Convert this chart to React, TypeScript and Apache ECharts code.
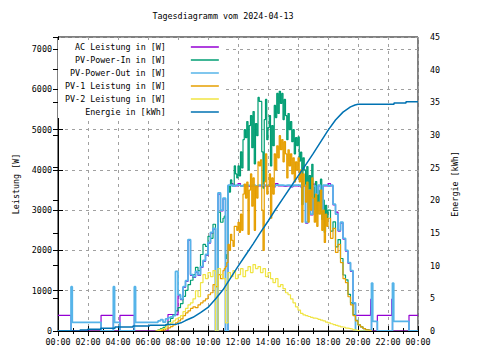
import React, { useEffect, useRef } from "react";
import * as echarts from "echarts";

const FONT = "DejaVu Sans Mono";
const FS = 8.4;

const TITLE = "Tagesdiagramm vom 2024-04-13";
const seriesNames = [
  "AC Leistung in [W]",
  "PV-Power-In in [W]",
  "PV-Power-Out in [W]",
  "PV-1 Leistung in [W]",
  "PV-2 Leistung in [W]",
  "Energie in [kWh]",
];
const colors = ["#9400d3", "#009e73", "#56b4e9", "#e69f00", "#f0e442", "#0072b2"];

// day samples every 10 minutes starting 06:30 (midday PV-In / PV-1 every 5 minutes 11:00-17:55)
const DAY_START = 6.5;
const DAY_STEP = 1 / 6;
const MID_START = 11;
const MID_STEP = 1 / 12;
const EVE_START = 18;

// [hour, W] step points before / after the day block
const acBefore = [[0, 390], [0.87, 0], [2.87, 390], [3.69, 0], [4.13, 390], [5.09, 0]];
const acAfter = [[20.85, 790], [20.9, 0], [21.29, 390], [22.25, 790], [22.3, 0], [23.4, 390], [24, 390]];
const pvOutBefore = [[0, 0], [0.87, 1100], [0.95, 215], [2.87, 0], [3.69, 1100], [3.77, 215], [4.13, 0], [5.09, 1100], [5.17, 215]];
const pvOutAfter = [[20.9, 1190], [20.98, 240], [21.29, 0], [22.3, 1190], [22.38, 240], [23.4, 0], [24, 0]];
const zeroAfter = [[20.9, 0]];

const acDay = [
  0, 0, 0, 0, 0, 410, 410, 410, 400, 880, 780, 1080, 1230, 2250, 1380, 1330, 1460, 1380, 1580, 1730,
  1880, 2180, 2430, 2530, 0, 3400, 2980, 3280, 0, 3600, 3660, 3600, 3600, 3660, 3600, 3600, 3600, 3590, 3600, 3600,
  3580, 3600, 3600, 3600, 3590, 3600, 3600, 3580, 3660, 3600, 3600, 3590, 3600, 3600, 3580, 3600, 3600, 3600, 3580, 3600,
  2680, 3480, 2880, 3650, 3380, 3600, 2980, 3600, 3600, 3660, 3600, 3130, 2950, 2480, 2680, 2280, 1980, 1680, 1480, 680,
  390, 390, 390, 390, 390, 390, 390,
];
const pvOutDay = [
  215, 250, 280, 220, 300, 330, 350, 380, 1480, 900, 800, 1100, 1250, 2270, 1400, 1350, 1480, 1400, 1600, 1750,
  1900, 2200, 2450, 2550, 0, 3430, 3000, 3300, 0, 3620, 3620, 3600, 3620, 3620, 3600, 3620, 3620, 3610, 3620, 3620,
  3600, 3620, 3620, 3620, 3610, 3620, 3620, 3600, 3620, 3620, 3620, 3610, 3620, 3620, 3600, 3620, 3620, 3620, 3600, 3620,
  2700, 3500, 2900, 3600, 3400, 3620, 3000, 3620, 3620, 3600, 3620, 3150, 2900, 2500, 2700, 2300, 2000, 1700, 1500, 700,
  0, 0, 0, 0, 0, 0, 0,
];
const pv2Day = [
  0, 20, 40, 60, 100, 150, 200, 250, 300, 330, 380, 480, 560, 650, 700, 800, 1000, 850, 1200, 1400,
  1300, 1450, 1350, 1500, 0, 1550, 1400, 1300, 200, 1450, 1350, 1500, 1300, 1400, 1550, 1350, 1500, 1600, 1450, 1650,
  1550, 1600, 1450, 1550, 1350, 1450, 1300, 1200, 1300, 1100, 1150, 1050, 950, 900, 800, 700, 600, 520, 440, 400,
  380, 360, 340, 320, 310, 290, 270, 250, 220, 200, 180, 160, 140, 120, 100, 90, 70, 60, 50, 30,
  15, 0, 0, 0, 0, 0, 0,
];

// PV-In: 06:30-10:50 (10 min), 11:00-17:55 (5 min), 18:00-20:50 (10 min)
const pvInMorning = [
  0, 30, 60, 90, 150, 230, 310, 400, 500, 580, 680, 860, 1010, 1150, 1260, 1400, 1580, 1500, 1900, 2150,
  2100, 2350, 2300, 2650, 1100, 2950, 2700,
];
const pvInMid = [
  2800, 2850, 1800, 1900, 3600, 3450, 3750, 3600, 3600, 4100, 3900, 3800,
  4100, 3850, 4450, 4050, 4750, 5000, 4800, 5200, 4000, 5100, 5350, 4550,
  5450, 4150, 5150, 4850, 5800, 5700, 5700, 4450, 3550, 5250, 5750, 4750,
  5050, 5350, 4100, 5100, 4600, 5600, 5300, 5900, 5400, 5950, 5650, 5900,
  5250, 5750, 5350, 4750, 5400, 5000, 5200, 4700, 5000, 4400, 4800, 4600,
  4820, 4220, 4440, 3140, 4300, 4000, 3580, 4080, 3060, 3860, 3340, 4140,
  3620, 3020, 3710, 2910, 3490, 3190, 3770, 2770, 3250, 2450, 3120, 2820,
];
const pvInEvening = [3000, 2480, 2710, 2090, 2270, 1800, 1390, 1270, 910, 700, 410, 265, 150, 100, 60, 30, 15, 0];

// PV-1: same time blocks
const pv1Morning = [
  0, 10, 20, 30, 50, 80, 110, 150, 200, 250, 300, 380, 450, 500, 560, 600, 580, 650, 700, 750,
  800, 900, 950, 1150, 1100, 1400, 1300,
];
const pv1Mid = [
  1500, 1550, 1600, 1700, 2150, 2000, 2400, 2250, 2100, 2600, 2600, 2500,
  2700, 2450, 2900, 2500, 3400, 3650, 3300, 3700, 2400, 3500, 3900, 3100,
  3800, 2500, 3600, 3300, 4200, 4100, 4250, 3000, 2000, 3700, 4400, 3400,
  3600, 3900, 2800, 3800, 3400, 4400, 4000, 4600, 4300, 4850, 4500, 4750,
  4200, 4700, 4400, 3800, 4500, 4100, 4400, 3900, 4300, 3700, 4200, 4000,
  4300, 3700, 4000, 2700, 3900, 3600, 3200, 3700, 2700, 3500, 3000, 3800,
  3300, 2700, 3400, 2600, 3200, 2900, 3500, 2500, 3000, 2200, 2900, 2600,
];
const pv1Evening = [2800, 2300, 2550, 1950, 2150, 1700, 1300, 1200, 850, 650, 380, 250, 150, 100, 60, 30, 15, 0];

// [hour, kWh]
const energy = [
  [0, 0], [1.47, 0], [1.47, 0.15], [1.98, 0.15], [1.98, 0.28], [2.85, 0.28], [2.85, 0.42], [3.8, 0.42],
  [3.8, 0.6], [5.0, 0.6], [5.0, 0.76], [6.1, 0.76], [6.1, 0.87], [7.2, 0.87], [7.2, 1.0], [7.9, 1.05],
  [8.2, 1.25], [8.5, 1.6], [9, 2.1], [9.5, 2.8], [10, 3.6], [10.5, 4.9], [11, 6.3], [11.5, 8.1],
  [12, 9.9], [12.5, 11.6], [13, 13.3], [13.5, 15.1], [14, 16.8], [14.5, 18.6], [15, 20.3], [15.5, 22.0],
  [16, 23.7], [16.5, 25.4], [17, 27.1], [17.5, 28.9], [18, 30.7], [18.5, 32.3], [19, 33.5], [19.5, 34.3],
  [19.8, 34.6], [20, 34.7], [22.4, 34.7], [22.4, 34.9], [23.2, 34.9], [23.2, 35.1], [24, 35.1],
];

const seg = (start: number, step: number, vals: number[]) => vals.map((v, i) => [start + i * step, v]);
const dayPairs = (vals: number[]) => seg(DAY_START, DAY_STEP, vals);
const build = (before: number[][], day: number[], after: number[][]) => [...before, ...dayPairs(day), ...after];
const build3 = (m: number[], mid: number[], e: number[]) => [
  ...seg(DAY_START, DAY_STEP, m),
  ...seg(MID_START, MID_STEP, mid),
  ...seg(EVE_START, DAY_STEP, e),
  ...zeroAfter,
];

const txt = { fontFamily: FONT, fontSize: FS, color: "#000" };
const black = { color: "#000", width: 1 };
const gridLine = { show: true, lineStyle: { color: "#a0a0a0", width: 1, type: [3, 4] as any } };
const hourLabel = (v: number) => String(v % 24).padStart(2, "0") + ":00";
const plainNum = (v: number) => String(v);

function buildOption() {
  const data = [
    build(acBefore, acDay, acAfter),
    build3(pvInMorning, pvInMid, pvInEvening),
    build(pvOutBefore, pvOutDay, pvOutAfter),
    build3(pv1Morning, pv1Mid, pv1Evening),
    build([], pv2Day, zeroAfter),
  ];
  const series: any[] = data.map((d, i) => ({
    name: seriesNames[i],
    type: "line",
    step: "end",
    data: d,
    xAxisIndex: 0,
    yAxisIndex: 0,
    symbol: "none",
    showSymbol: false,
    silent: true,
    lineStyle: { width: i === 2 ? 1.8 : 1.2, color: colors[i] },
    itemStyle: { color: colors[i] },
  }));
  series.push({
    name: seriesNames[5],
    type: "line",
    data: energy,
    xAxisIndex: 0,
    yAxisIndex: 1,
    symbol: "none",
    showSymbol: false,
    silent: true,
    lineStyle: { width: 1.5, color: colors[5] },
    itemStyle: { color: colors[5] },
  });

  return {
    animation: false,
    backgroundColor: "#fff",
    title: {
      text: TITLE,
      left: 223,
      top: 12,
      textAlign: "center",
      padding: 0,
      textStyle: { ...txt, fontWeight: "normal" },
    },
    legend: {
      orient: "vertical",
      left: 58,
      top: 40,
      align: "right",
      icon: "rect",
      itemWidth: 28,
      itemHeight: 1.5,
      itemGap: 5,
      padding: [3, 7, 2, 7],
      backgroundColor: "#fff",
      selectedMode: false,
      data: seriesNames,
      formatter: (name: string) => `{t|${name}}{s| }`,
      textStyle: {
        ...txt,
        rich: {
          t: { ...txt, width: 100, align: "right" },
          s: { ...txt, width: 20 },
        },
      },
    },
    grid: { left: 58, right: 62, top: 37, bottom: 29, show: true, borderColor: "#000", borderWidth: 1 },
    xAxis: [
      {
        type: "value", min: 0, max: 24, interval: 2, position: "bottom",
        axisLine: { lineStyle: black },
        axisTick: { inside: true, length: 5, lineStyle: black },
        minorTick: { show: true, splitNumber: 2, length: 3, lineStyle: black },
        axisLabel: { ...txt, margin: 7, formatter: hourLabel },
        splitLine: gridLine,
      },
      {
        type: "value", min: 0, max: 24, interval: 2, position: "top",
        axisLine: { lineStyle: black },
        axisTick: { inside: true, length: 5, lineStyle: black },
        minorTick: { show: true, splitNumber: 2, length: 3, lineStyle: black },
        axisLabel: { show: false },
        splitLine: { show: false },
      },
      {
        type: "value", min: 0, max: 24, interval: 2, position: "bottom", z: 10,
        axisLine: { lineStyle: black },
        axisTick: { show: false },
        axisLabel: { show: false },
        splitLine: { show: false },
      },
    ],
    yAxis: [
      {
        type: "value", min: 0, max: 7300, interval: 1000, position: "left",
        name: "Leistung [W]", nameLocation: "middle", nameGap: 38, nameTextStyle: txt,
        axisLine: { show: true, lineStyle: black },
        axisTick: { show: true, inside: true, length: 5, lineStyle: black },
        axisLabel: { ...txt, margin: 6, showMaxLabel: false, formatter: plainNum },
        splitLine: gridLine,
      },
      {
        type: "value", min: 0, max: 45, interval: 5, position: "right", offset: 0,
        name: "Energie [kWh]", nameLocation: "middle", nameGap: 27, nameTextStyle: txt,
        axisLine: { show: true, lineStyle: black },
        axisTick: { show: true, inside: true, length: 5, lineStyle: black },
        axisLabel: { ...txt, margin: 12, formatter: plainNum },
        splitLine: { show: false },
      },
      {
        type: "value", min: 0, max: 7300, interval: 1000, position: "right", offset: 0,
        axisLine: { show: false },
        axisTick: { show: true, inside: true, length: 5, lineStyle: black },
        axisLabel: { show: false },
        splitLine: { show: false },
      },
    ],
    series,
  };
}

export default function App() {
  const ref = useRef<HTMLDivElement>(null);
  useEffect(() => {
    if (!ref.current) return;
    const chart = echarts.init(ref.current, null, { renderer: "svg" });
    chart.setOption(buildOption() as any);
    return () => chart.dispose();
  }, []);
  return (
    <div
      ref={ref}
      style={{ position: "fixed", left: 0, top: 0, width: 480, height: 360, background: "#fff" }}
    />
  );
}
